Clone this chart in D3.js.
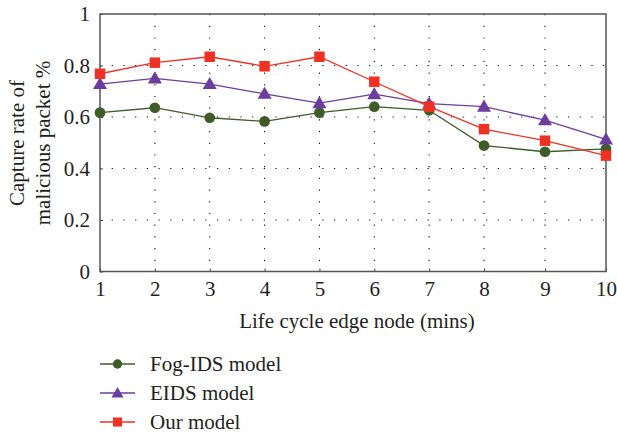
<!DOCTYPE html>
<html><head><meta charset="utf-8">
<script src="https://cdn.jsdelivr.net/npm/d3@7"></script>
<style>body{margin:0;background:#fff}svg{display:block}svg text{font-family:"Liberation Serif","Times New Roman",serif !important;fill:#231f20}</style>
</head><body><svg id="c" width="617" height="438"></svg>
<script>
const xValues = [1,2,3,4,5,6,7,8,9,10];
const yTicks = [0,0.2,0.4,0.6,0.8,1];
const seriesNames = ["Fog-IDS model","EIDS model","Our model"];
const fogIds = [0.617,0.636,0.597,0.583,0.617,0.640,0.626,0.489,0.465,0.476];
const eids   = [0.728,0.750,0.728,0.690,0.654,0.689,0.652,0.640,0.588,0.513];
const ours   = [0.768,0.811,0.834,0.797,0.834,0.737,0.640,0.553,0.508,0.450];
const colors = ["#3e5b28","#6a3d9e","#ef3124"];
const shapes = [d3.symbolCircle, d3.symbolTriangle, d3.symbolSquare];
const symSizes = [90, 85, 110];
const FS = 21;

const svg = d3.select("#c");
const L=100, R=606, T=14, B=271.5;
const x = d3.scaleLinear().domain([1,8,10]).range([L,484,R]);
const y = d3.scaleLinear().domain([0,1]).range([B,T]);

// grid
const g = svg.append("g");
g.selectAll("line.vg").data(xValues.slice(1,-1)).join("line")
 .attr("x1",d=>x(d)).attr("x2",d=>x(d)).attr("y1",T).attr("y2",B)
 .attr("stroke","#111").attr("stroke-width",1.1).attr("stroke-dasharray","1.2,10.5");
g.selectAll("line.hg").data(yTicks.slice(1,-1)).join("line")
 .attr("x1",L).attr("x2",R).attr("y1",d=>y(d)).attr("y2",d=>y(d))
 .attr("stroke","#111").attr("stroke-width",1.1).attr("stroke-dasharray","1.2,10.5");

// axes
const yAxis = d3.axisLeft(y).tickValues(yTicks).tickFormat(d=>d===0||d===1?d3.format("d")(d):d3.format(".1f")(d)).tickSize(-3).tickPadding(10);
const ya = svg.append("g").attr("transform",`translate(${L},0)`).call(yAxis).attr("font-family",null);
ya.select(".domain").remove();
ya.selectAll("line").attr("stroke","#444");
ya.selectAll("text").attr("font-size",FS);
const xAxis = d3.axisBottom(x).tickValues(xValues).tickFormat(d3.format("d")).tickSize(-3).tickPadding(10);
const xa = svg.append("g").attr("transform",`translate(0,${B})`).call(xAxis).attr("font-family",null);
xa.select(".domain").remove();
xa.selectAll("line").attr("stroke","#444");
xa.selectAll("text").attr("font-size",FS);

svg.append("rect").attr("x",L).attr("y",T).attr("width",R-L).attr("height",B-T)
 .attr("fill","none").attr("stroke","#555").attr("stroke-width",1.5);

// titles
svg.append("text").attr("x",357).attr("y",328).attr("text-anchor","middle").attr("font-size",FS).text("Life cycle edge node (mins)");
const yt = svg.append("text").attr("transform","translate(0,143) rotate(-90)").attr("text-anchor","middle").attr("font-size",FS);
yt.append("tspan").attr("x",0).attr("y",24).text("Capture rate of");
yt.append("tspan").attr("x",0).attr("y",50).text("malicious packet %");

// series
const data = [fogIds, eids, ours];
const line = d3.line().x((d,i)=>x(xValues[i])).y(d=>y(d));
data.forEach((s,k)=>{
  svg.append("path").datum(s).attr("d",line).attr("fill","none").attr("stroke",colors[k]).attr("stroke-width",1.3);
});
data.forEach((s,k)=>{
  const sym = d3.symbol().type(shapes[k]).size(symSizes[k]);
  svg.append("g").selectAll("path").data(s).join("path")
   .attr("transform",(d,i)=>`translate(${x(xValues[i])},${y(d)+(k===1?1:0)})`)
   .attr("d",sym).attr("fill",colors[k]);
});

// legend
const lg = svg.append("g");
const rowsY = [364,393,422];
seriesNames.forEach((n,k)=>{
  lg.append("line").attr("x1",100).attr("x2",135).attr("y1",rowsY[k]).attr("y2",rowsY[k]).attr("stroke",colors[k]).attr("stroke-width",1.3);
  lg.append("path").attr("transform",`translate(117.5,${rowsY[k]+(k===1?1:0)})`).attr("d",d3.symbol().type(shapes[k]).size(symSizes[k]*0.75)).attr("fill",colors[k]);
  lg.append("text").attr("x",150).attr("y",rowsY[k]+7).attr("font-size",FS).text(n);
});
</script></body></html>
